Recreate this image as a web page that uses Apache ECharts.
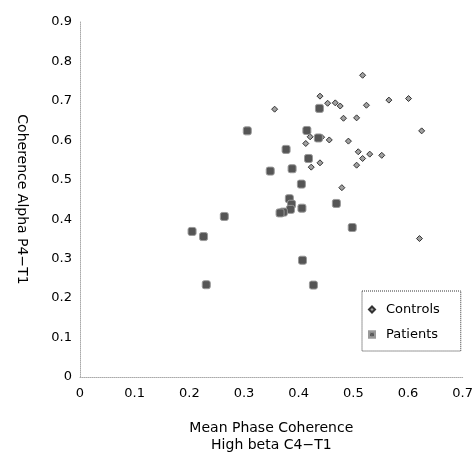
<!DOCTYPE html>
<html>
<head>
<meta charset="utf-8">
<script src="https://cdn.jsdelivr.net/npm/echarts@6/dist/echarts.min.js"></script>
<style>
  html, body { margin: 0; padding: 0; background: #fff; }
  #main { width: 476px; height: 459px; }
</style>
</head>
<body>
<div id="main"></div>
<script>
// values: [x, y]
var controls = [
  [0.517, 0.765], [0.356, 0.679], [0.439, 0.712], [0.453, 0.694], [0.467, 0.695],
  [0.476, 0.687], [0.524, 0.689], [0.565, 0.702], [0.601, 0.706], [0.482, 0.656],
  [0.506, 0.657], [0.625, 0.624], [0.413, 0.592], [0.421, 0.609], [0.442, 0.608],
  [0.456, 0.601], [0.491, 0.598], [0.509, 0.571], [0.517, 0.554], [0.530, 0.565],
  [0.552, 0.562], [0.506, 0.537], [0.439, 0.543], [0.423, 0.532], [0.479, 0.480],
  [0.621, 0.351]
];
var patients = [
  [0.306, 0.624], [0.377, 0.577], [0.348, 0.522], [0.388, 0.528], [0.415, 0.625],
  [0.418, 0.554], [0.438, 0.681], [0.436, 0.606], [0.405, 0.489], [0.383, 0.452],
  [0.387, 0.438], [0.385, 0.425], [0.372, 0.418], [0.366, 0.416], [0.406, 0.428],
  [0.469, 0.440], [0.264, 0.407], [0.205, 0.369], [0.226, 0.356], [0.498, 0.379],
  [0.407, 0.296], [0.231, 0.234], [0.427, 0.233]
];
var xTitle = 'Mean Phase Coherence\nHigh beta C4\u2212T1';
var yTitle = 'Coherence Alpha P4\u2212T1';

var chart = echarts.init(document.getElementById('main'));
var font = 'DejaVu Sans';
var axisLine = { show: true, lineStyle: { color: '#aaa', type: 'dotted', width: 1 } };
var fmt = function (v) { return +v.toFixed(1) + ''; };

var option = {
  backgroundColor: '#fff',
  animation: false,
  textStyle: { fontFamily: font },
  grid: { left: 80, right: 11, top: 22, bottom: 81 },
  legend: {
    left: 362,
    top: 291,
    orient: 'vertical',
    itemGap: 12,
    itemWidth: 6,
    itemHeight: 6,
    padding: [12, 21, 10, 6],
    borderColor: '#333',
    borderWidth: 1,
    borderType: 'dotted',
    textStyle: { fontFamily: font, fontSize: 13, color: '#000', padding: [0, 0, 0, 6] },
    data: [
      { name: 'Controls', icon: 'diamond' },
      { name: 'Patients', icon: 'rect' }
    ]
  },
  xAxis: {
    type: 'value',
    min: 0, max: 0.7, interval: 0.1,
    name: xTitle,
    nameLocation: 'middle',
    nameGap: 43,
    nameTextStyle: { fontFamily: font, fontSize: 14, color: '#000', lineHeight: 17 },
    axisLine: axisLine,
    axisTick: { show: false },
    splitLine: { show: false },
    axisLabel: { color: '#000', fontSize: 13, margin: 10, formatter: fmt }
  },
  yAxis: {
    type: 'value',
    min: 0, max: 0.9, interval: 0.1,
    name: yTitle,
    nameLocation: 'middle',
    nameRotate: -90,
    nameGap: 51,
    nameTextStyle: { fontFamily: font, fontSize: 14, color: '#000' },
    axisLine: axisLine,
    axisTick: { show: false },
    splitLine: { show: false },
    axisLabel: { color: '#000', fontSize: 13, margin: 8, formatter: fmt }
  },
  series: [
    {
      name: 'Controls',
      type: 'scatter',
      symbol: 'diamond',
      symbolSize: 6,
      itemStyle: { color: '#a0a0a0', borderColor: '#333', borderWidth: 1, opacity: 1 },
      data: controls
    },
    {
      name: 'Patients',
      type: 'scatter',
      symbol: 'roundRect',
      symbolSize: 8,
      itemStyle: {
        color: '#555',
        borderColor: '#999',
        borderWidth: 1,
        opacity: 1,
        decal: { symbol: 'rect', symbolSize: 0.6, dashArrayX: [1, 1], dashArrayY: [1, 1], color: '#ccc', rotation: 0.785 }
      },
      data: patients
    }
  ]
};

chart.setOption(option);
</script>
</body>
</html>
